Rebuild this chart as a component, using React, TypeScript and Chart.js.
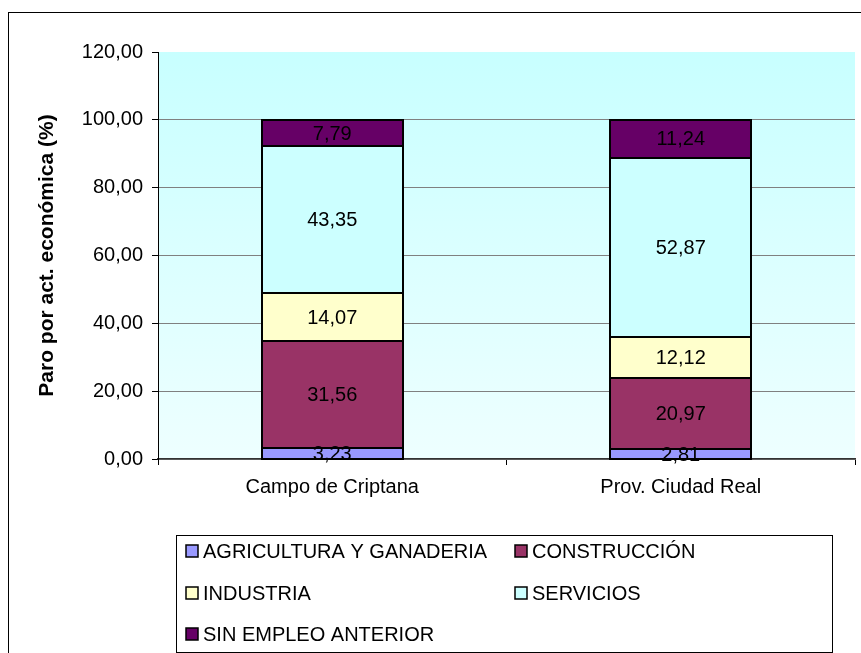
import React, { useEffect, useRef } from "react";
import { Chart, registerables } from "chart.js";

Chart.register(...registerables);

const categories = ["Campo de Criptana", "Prov. Ciudad Real"];
const seriesNames = [
  "AGRICULTURA Y GANADERIA",
  "CONSTRUCCIÓN",
  "INDUSTRIA",
  "SERVICIOS",
  "SIN EMPLEO ANTERIOR",
];
const agricultura = [3.23, 2.81];
const construccion = [31.56, 20.97];
const industria = [14.07, 12.12];
const servicios = [43.35, 52.87];
const sinEmpleo = [7.79, 11.24];
const seriesColors = ["#9999FF", "#993366", "#FFFFCC", "#CCFFFF", "#660066"];
const yTicks = [0, 20, 40, 60, 80, 100, 120];

const FONT = "'Liberation Sans', Arial, sans-serif";
const fmt = (v: number) => v.toFixed(2).replace(".", ",");

const bgPlugin = {
  id: "bgPlugin",
  beforeDraw(chart: any) {
    const { ctx, chartArea } = chart;
    const { left, top, right, bottom } = chartArea;
    ctx.save();
    ctx.fillStyle = "#ffffff";
    ctx.fillRect(0, 0, chart.width, chart.height);
    const g = ctx.createLinearGradient(0, top, 0, bottom);
    g.addColorStop(0, "#C8FFFF");
    g.addColorStop(1, "#EEFFFF");
    ctx.fillStyle = g;
    ctx.fillRect(left, top, right - left, bottom - top);
    ctx.strokeStyle = "#000";
    ctx.lineWidth = 1;
    ctx.strokeRect(8.5, 12.5, 1000, 1000);
    ctx.restore();
  },
};

const labelPlugin = {
  id: "labelPlugin",
  afterDatasetsDraw(chart: any) {
    const { ctx } = chart;
    ctx.save();
    ctx.strokeStyle = "#000";
    ctx.lineWidth = 2;
    chart.data.datasets.forEach((_ds: any, i: number) => {
      const meta = chart.getDatasetMeta(i);
      meta.data.forEach((el: any) => {
        const w = el.width;
        const x0 = Math.round(el.x - w / 2);
        const x1 = Math.round(el.x + w / 2);
        const y0 = Math.round(Math.min(el.y, el.base));
        const y1 = Math.round(Math.max(el.y, el.base));
        ctx.strokeRect(x0, y0, x1 - x0, y1 - y0);
      });
    });
    ctx.font = `20px ${FONT}`;
    ctx.fillStyle = "#000";
    ctx.textAlign = "center";
    ctx.textBaseline = "middle";
    chart.data.datasets.forEach((ds: any, i: number) => {
      const meta = chart.getDatasetMeta(i);
      meta.data.forEach((el: any, j: number) => {
        const y = (el.y + el.base) / 2;
        ctx.fillText(fmt(ds.data[j]), el.x, y + 1);
      });
    });
    ctx.restore();
  },
  afterDraw(chart: any) {
    const { ctx } = chart;
    ctx.save();
    ctx.strokeStyle = "#000";
    ctx.lineWidth = 1;
    ctx.strokeRect(176.5, 535.5, 656, 117);
    ctx.font = `20px ${FONT}`;
    ctx.textAlign = "left";
    ctx.textBaseline = "middle";
    const pos = [
      [186, 551],
      [515, 551],
      [186, 593],
      [515, 593],
      [186, 634],
    ];
    chart.data.datasets.forEach((ds: any, i: number) => {
      const [x, y] = pos[i];
      ctx.fillStyle = ds.backgroundColor;
      ctx.fillRect(x, y - 6, 12, 12);
      ctx.lineWidth = 1.5;
      ctx.strokeStyle = "#000";
      ctx.strokeRect(x, y - 6, 12, 12);
      ctx.fillStyle = "#000";
      ctx.fillText(ds.label, x + 17, y + 1);
    });
    ctx.restore();
  },
};

export default function App() {
  const ref = useRef<HTMLCanvasElement | null>(null);
  useEffect(() => {
    if (!ref.current) return;
    const values = [agricultura, construccion, industria, servicios, sinEmpleo];
    const chart = new Chart(ref.current, {
      type: "bar",
      data: {
        labels: categories,
        datasets: seriesNames.map((name, i) => ({
          label: name,
          data: values[i],
          backgroundColor: seriesColors[i],
          borderWidth: 0,
          barPercentage: 0.405,
          categoryPercentage: 1,
        })),
      },
      options: {
        animation: false,
        responsive: false,
        maintainAspectRatio: false,
        layout: { padding: { top: 52, right: 6, bottom: 144, left: 0 } },
        plugins: { legend: { display: false }, tooltip: { enabled: false } },
        scales: {
          x: {
            stacked: true,
            offset: true,
            afterFit(scale: any) {
              scale.height = 50;
            },
            grid: {
              offset: true,
              drawOnChartArea: false,
              drawTicks: true,
              tickLength: 6,
              tickColor: "#000",
            },
            border: { display: true, color: "#333", width: 1.5 },
            ticks: {
              color: "#000",
              font: { family: FONT, size: 20 },
              padding: 10,
            },
          },
          y: {
            stacked: true,
            min: 0,
            max: 120,
            afterFit(scale: any) {
              scale.width = 158;
            },
            afterBuildTicks(scale: any) {
              scale.ticks = yTicks.map((v) => ({ value: v }));
            },
            grid: {
              color: (c: any) => (c.tick && c.tick.value === 120 ? "rgba(0,0,0,0)" : "#808080"),
              lineWidth: 1,
              tickLength: 6,
              tickColor: "#000",
            },
            border: { display: true, color: "#000", width: 1 },
            ticks: {
              color: "#000",
              font: { family: FONT, size: 20 },
              padding: 9,
              callback: (v: any) => fmt(Number(v)),
            },
            title: {
              display: true,
              text: "Paro por act. económica (%)",
              color: "#000",
              font: { family: FONT, size: 21, weight: "bold" },
              padding: { top: 35, bottom: 0 },
            },
          },
        },
      },
      plugins: [bgPlugin, labelPlugin],
    });
    return () => chart.destroy();
  }, []);
  return (
    <div style={{ position: "fixed", left: 0, top: 0, width: 861, height: 653 }}>
      <canvas ref={ref} width={861} height={653} style={{ width: 861, height: 653 }} />
    </div>
  );
}
